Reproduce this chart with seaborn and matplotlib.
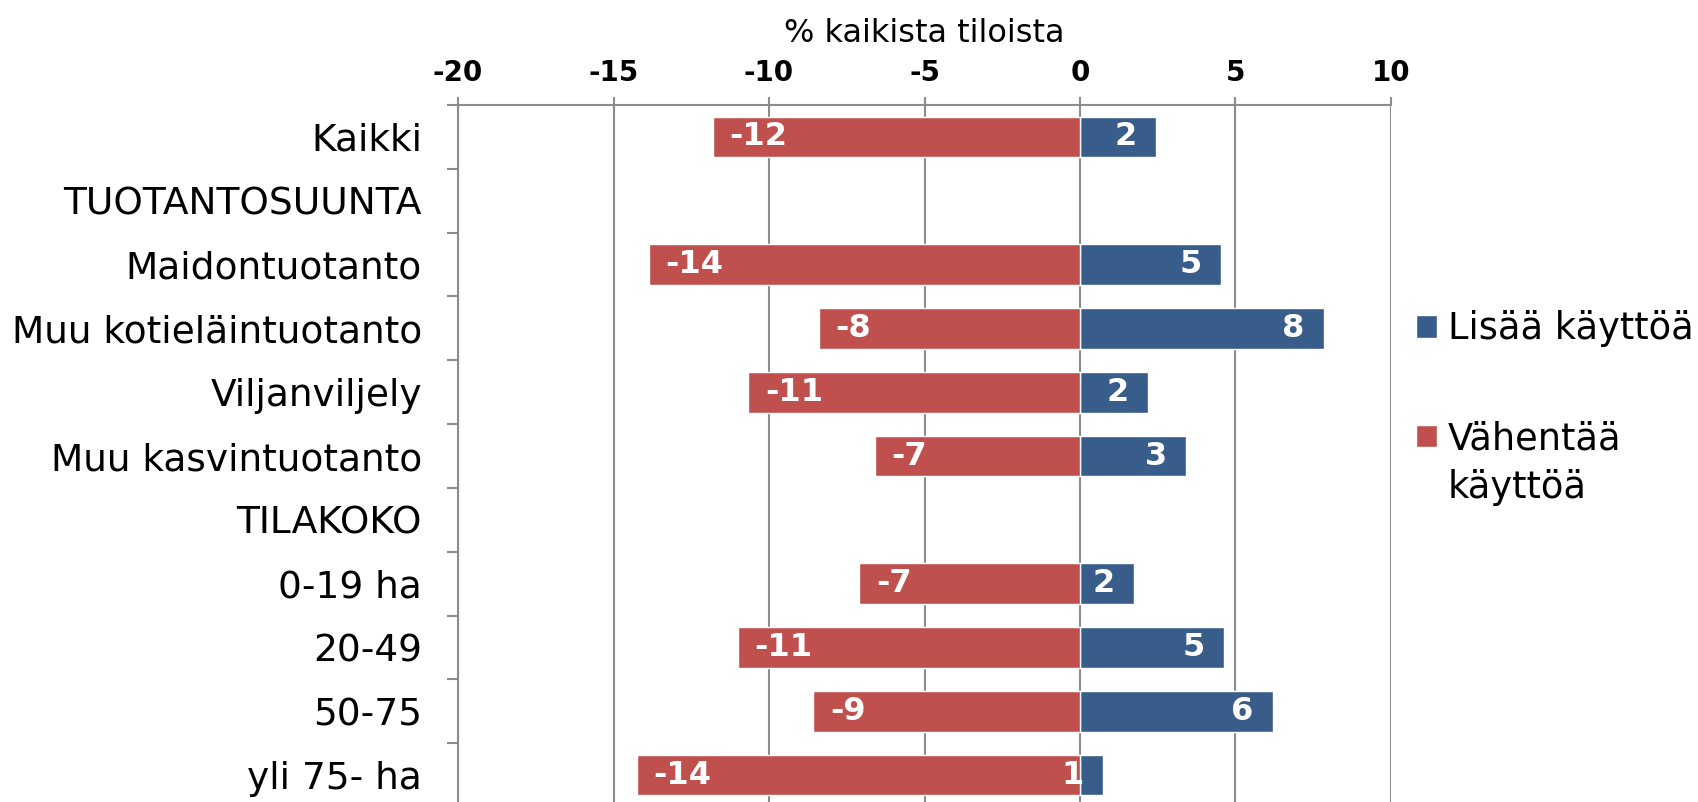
import numpy as np
import pandas as pd
import matplotlib
matplotlib.use("Agg")
import matplotlib.pyplot as plt
import seaborn as sns

# categories (top to bottom) and values
kategoriat = ["Kaikki", "TUOTANTOSUUNTA", "Maidontuotanto", "Muu kotieläintuotanto",
              "Viljanviljely", "Muu kasvintuotanto", "TILAKOKO", "0-19 ha",
              "20-49", "50-75", "yli 75- ha"]
lisaa = [2.44, np.nan, 4.53, 7.84, 2.2, 3.41, np.nan, 1.74, 4.63, 6.2, 0.73]
vahentaa = [-11.8, np.nan, -13.87, -8.4, -10.66, -6.59, np.nan, -7.1, -11.0, -8.57, -14.25]
sarjat = ["Lisää käyttöä", "Vähentää"]
varit = {sarjat[0]: "#385D8A", sarjat[1]: "#C0504D"}

df = pd.DataFrame({
    "kategoria": kategoriat * 2,
    "arvo": lisaa + vahentaa,
    "sarja": [sarjat[0]] * len(kategoriat) + [sarjat[1]] * len(kategoriat),
})

sns.set_style("white")
plt.rcParams["font.family"] = ["DejaVu Sans"]
plt.rcParams["axes.unicode_minus"] = False
for k in ["text.color", "axes.labelcolor", "xtick.labelcolor", "ytick.labelcolor"]:
    plt.rcParams[k] = "black"

fig = plt.figure(figsize=(16.99, 8.02), dpi=100)
ax = fig.add_axes([0.2696, -0.0062, 0.8187 - 0.2696, 0.869 + 0.0062])

sns.barplot(data=df, y="kategoria", x="arvo", hue="sarja", order=kategoriat,
            hue_order=sarjat, palette=varit, dodge=False, errorbar=None,
            width=0.64, orient="h", ax=ax, saturation=1, zorder=3)

ax.set_xlim(-20, 10)
ax.set_ylim(len(kategoriat) - 0.5, -0.5)
ax.set_xticks(np.arange(-20, 11, 5))
ax.xaxis.tick_top()
ax.xaxis.set_label_position("top")
ax.set_xlabel("% kaikista tiloista", fontsize=23, labelpad=12)
ax.set_ylabel("")

gray = "#8c8c8c"
ax.grid(axis="x", color=gray, linewidth=1.5, zorder=0)
for s in ["right", "bottom"]:
    ax.spines[s].set_visible(False)
for s in ["top", "left"]:
    ax.spines[s].set_color(gray)
    ax.spines[s].set_linewidth(1.5)

ax.tick_params(axis="x", top=True, bottom=False, length=6, width=1.5, color=gray,
               pad=7, labelsize=20)
for t in ax.get_xticklabels():
    t.set_fontweight("bold")
ax.tick_params(axis="y", which="major", length=0, pad=26, labelsize=27)
ax.set_yticks(np.arange(-0.5, len(kategoriat) - 0.5), minor=True)
ax.tick_params(axis="y", which="minor", left=True, length=8, width=1.5, color=gray)

# value labels inside the bars
for i, (p, n) in enumerate(zip(lisaa, vahentaa)):
    if np.isnan(p):
        continue
    ax.annotate(f"{round(n):d}", (n, i), xytext=(12, 0), textcoords="offset points",
                ha="left", va="center", color="white", fontsize=23, fontweight="bold", zorder=5)
    ax.annotate(f"{round(p):d}", (p, i), xytext=(-14, 0), textcoords="offset points",
                ha="right", va="center", color="white", fontsize=23, fontweight="bold", zorder=5)

leg = ax.legend(loc="upper left", bbox_to_anchor=(0.8334, 0.613), bbox_transform=fig.transFigure,
                frameon=False, fontsize=26.5, borderpad=0, borderaxespad=0,
                handlelength=0.56, handleheight=0.56, handletextpad=0.3, labelspacing=1.98)
# second line of the "Vähentää käyttöä" legend label
ax.annotate("käyttöä", xy=(0, 0.5), xycoords=leg.get_texts()[1], xytext=(0, -35),
            textcoords="offset points", ha="left", va="center", fontsize=26.5,
            annotation_clip=False, zorder=6)

fig.savefig("out.png", dpi=100)
